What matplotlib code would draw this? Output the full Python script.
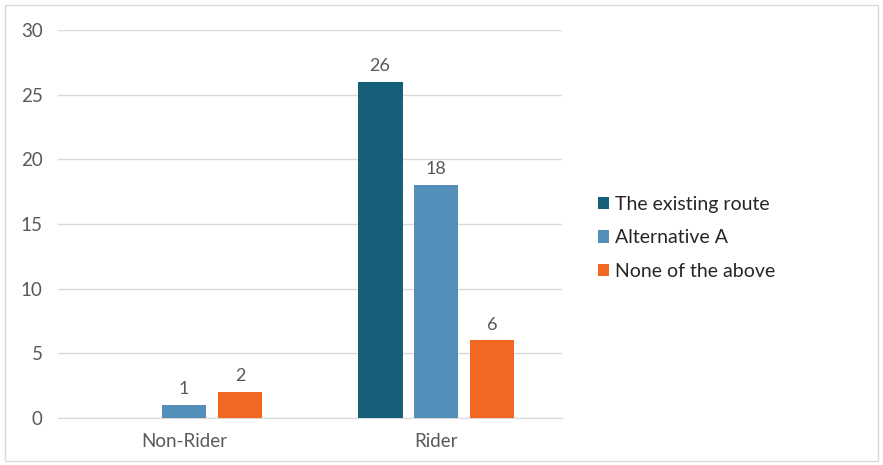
import matplotlib.pyplot as plt
import numpy as np
from matplotlib.patches import Rectangle

categories = ["Non-Rider", "Rider"]
series_names = ["The existing route", "Alternative A", "None of the above"]
existing_route = [0, 26]
alternative_a = [1, 18]
none_above = [2, 6]
colors = ["#155F78", "#548FBA", "#F26722"]

plt.rcParams["font.family"] = ["Lato", "DejaVu Sans"]
text_color = "#595959"

fig = plt.figure(figsize=(8.83, 4.65), dpi=100)
ax = fig.add_axes([0.0657, 0.101, 0.5708, 0.8345])

# light border round the whole chart
fig.patches.append(Rectangle((0.006, 0.008), 0.988, 0.982, transform=fig.transFigure,
                             fill=False, edgecolor="#D9D9D9", linewidth=1))

x = np.arange(len(categories))
offset = 0.222
width = 0.178
for i, (vals, name) in enumerate(zip([existing_route, alternative_a, none_above], series_names)):
    pos = x + (i - 1) * offset
    bars = ax.bar(pos, vals, width, color=colors[i], label=name, zorder=3)
    for b, v in zip(bars, vals):
        if v > 0:
            ax.text(b.get_x() + b.get_width() / 2, v + 0.6, str(v), ha="center", va="bottom",
                    fontsize=13, color=text_color)

ax.set_xlim(-0.5, 1.5)
ax.set_ylim(0, 30)
ax.set_yticks(range(0, 31, 5))
ax.set_xticks(x)
ax.set_xticklabels(categories)
ax.grid(axis="y", color="#D9D9D9", linewidth=1, zorder=0)
for s in ["top", "right", "left"]:
    ax.spines[s].set_visible(False)
ax.spines["bottom"].set_color("#D9D9D9")
ax.tick_params(axis="both", length=0, labelsize=13.5, colors=text_color)
ax.tick_params(axis="y", pad=11)
ax.tick_params(axis="x", pad=11)

leg = ax.legend(loc="center left", bbox_to_anchor=(1.036, 0.464), frameon=False,
                fontsize=14, handlelength=0.6, handleheight=0.6, handletextpad=0.3,
                labelspacing=0.85)
for t in leg.get_texts():
    t.set_color("#262626")

fig.savefig("out.png", dpi=100)
